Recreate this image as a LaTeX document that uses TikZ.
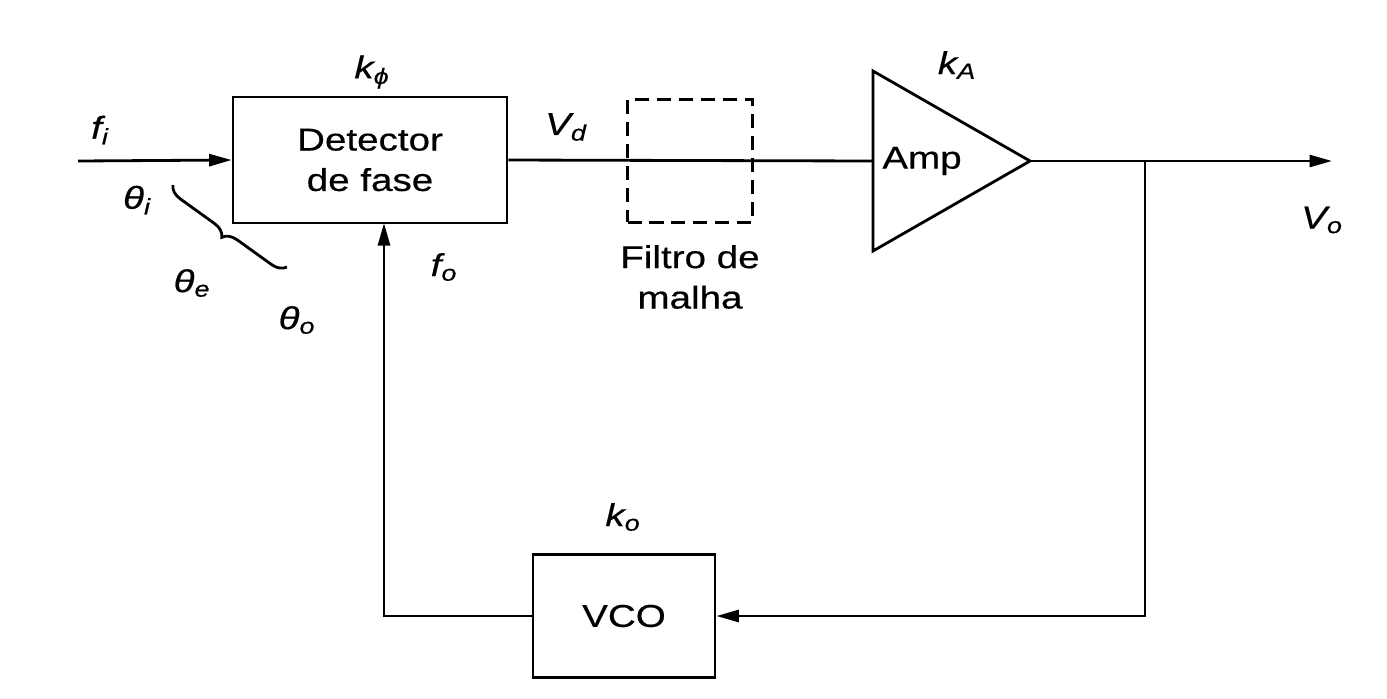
\documentclass[tikz,border=0pt]{standalone}
\usepackage{fontspec}
\setmainfont[FakeStretch=1.22, FakeBold=0.5]{Liberation Sans}
\usetikzlibrary{arrows.meta, positioning, decorations.pathreplacing}
\begin{document}
\begin{tikzpicture}[x=0.02cm, y=-0.02cm, every node/.style={font=\fontsize{18}{23}\selectfont}]
\tikzset{blk/.style={draw, line width=1.6pt, align=center, inner sep=0pt},
  lbl/.style={font=\fontsize{18}{23}\selectfont\itshape, inner sep=0pt},
  wire/.style={line width=1.6pt},
  arr/.style={-{Triangle[length=4.5mm, width=2.4mm]}, line width=1.6pt}}
\useasboundingbox (0,0) rectangle (1387,698);
\node[blk, minimum width=5.48cm, minimum height=2.52cm] (det) at (370,160) {Detector\\de fase};
\node[blk, dashed, dash pattern=on 8pt off 4.5pt, minimum width=2.5cm, minimum height=2.46cm] (filt) at (690,161) {};
\node[blk, minimum width=3.64cm, minimum height=2.46cm] (vco) at (624,616) {VCO};
\draw[wire, line join=miter] (873,71) -- (1030,161) -- (873,251) -- cycle;
\node (amp) at (922,161) {Amp};
\coordinate (in) at (78,161);
\coordinate (ampin) at (873,161);
\coordinate (ampout) at (1030,161);
\coordinate (out) at (1332,161);
\coordinate (br) at (1145,161);
\coordinate (fb) at (384,223);
\coordinate (bra) at (173,185);
\coordinate (brb) at (287,267);
\draw[arr] (in) -- (det.west);
\draw[wire] (det.east) -- (ampin);
\draw[arr] (ampout) -- (out);
\draw[arr] (br) |- (vco.east);
\draw[arr] (vco.west) -| (fb);
\draw[wire, decorate, decoration={brace, mirror, amplitude=8pt}] (bra) -- (brb);
% labels
\node[lbl] (fi) at (100,130) {f\textsubscript{i}};
\node[lbl] (thi) at (137,200) {θ\textsubscript{i}};
\node[lbl] (the) at (192,283) {θ\textsubscript{e}};
\node[lbl] (tho) at (297,320) {θ\textsubscript{o}};
\node[lbl] (kphi) at (372,72) {k\textsubscript{ϕ}};
\node[lbl] (vd) at (566,127) {V\textsubscript{d}};
\node[lbl] (fo) at (444,267) {f\textsubscript{o}};
\node[align=center] (filtl) at (690,277) {Filtro de\\malha};
\node[lbl] (ka) at (957,65) {k\textsubscript{A}};
\node[lbl] (vo) at (1322,220) {V\textsubscript{o}};
\node[lbl] (ko) at (623,517) {k\textsubscript{o}};
\end{tikzpicture}
\end{document}
